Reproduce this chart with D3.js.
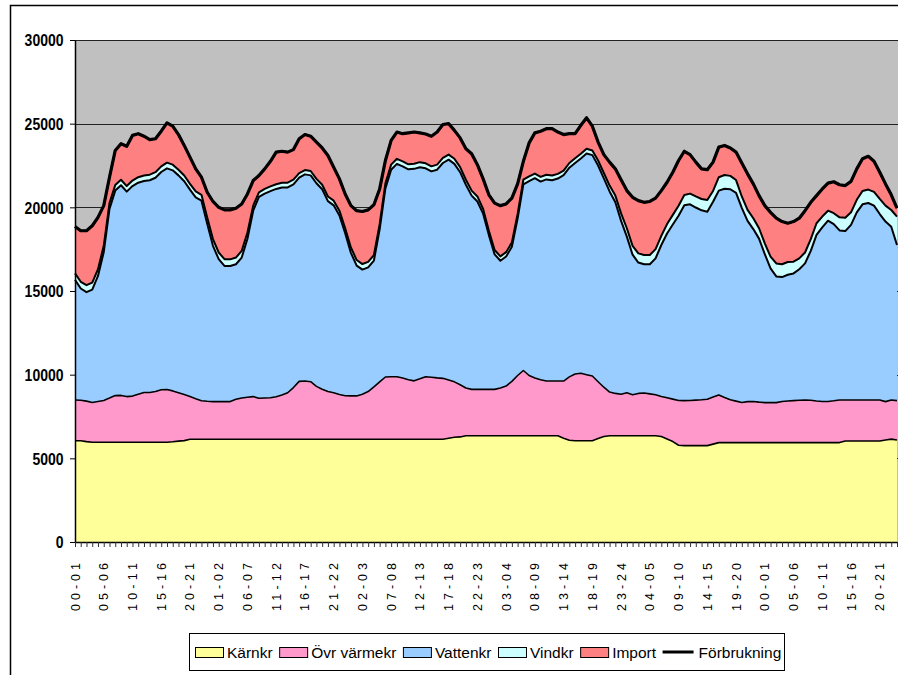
<!DOCTYPE html>
<html>
<head>
<meta charset="utf-8">
<script src="https://cdn.jsdelivr.net/npm/d3@7"></script>
<style>
  body { margin: 0; background: #fff; }
  svg { display: block; font-family: "Liberation Sans", Arial, sans-serif; }
</style>
</head>
<body>
<svg id="chart" width="898" height="675"></svg>
<script>
// hour slots, 6 days in a row
const hours = ["00-01","01-02","02-03","03-04","04-05","05-06","06-07","07-08","08-09","09-10","10-11","11-12",
               "12-13","13-14","14-15","15-16","16-17","17-18","18-19","19-20","20-21","21-22","22-23","23-24"]
const days = 6
const categories = d3.range(days).flatMap(() => hours)

// MW per hour, one line per day
const karnkr = [
  6050,6050,6000,5960,5960,5960,5960,5960,5960,5960,5960,5960,5960,5960,5960,5960,5960,5990,6030,6060,6140,6140,6140,6140,
  6140,6140,6140,6140,6140,6140,6140,6140,6140,6140,6140,6140,6140,6140,6140,6140,6140,6140,6140,6140,6140,6140,6140,6140,
  6140,6140,6140,6140,6140,6140,6140,6140,6140,6140,6140,6140,6140,6140,6140,6140,6140,6200,6260,6280,6350,6350,6350,6350,
  6350,6350,6350,6350,6350,6350,6350,6350,6350,6350,6350,6350,6350,6200,6080,6050,6050,6050,6050,6180,6300,6350,6350,6350,
  6350,6350,6350,6350,6350,6350,6300,6150,6000,5780,5760,5760,5760,5760,5760,5850,5940,5940,5940,5940,5940,5940,5940,5940,
  5940,5940,5940,5940,5940,5940,5940,5940,5940,5940,5940,5940,5940,5940,6040,6040,6040,6040,6040,6040,6040,6100,6150,6100
]
const ovrVarme = [
  2440,2420,2420,2380,2440,2500,2640,2790,2800,2730,2760,2870,2970,2970,3030,3140,3150,3040,2890,2750,2550,2420,2300,2270,
  2250,2250,2250,2250,2390,2470,2510,2550,2450,2470,2480,2540,2640,2780,3090,3460,3480,3440,3160,2990,2850,2780,2670,2600,
  2590,2590,2690,2850,3130,3430,3720,3740,3740,3660,3560,3490,3610,3740,3710,3670,3640,3480,3310,3120,2850,2770,2770,2770,
  2770,2770,2850,2970,3250,3600,3900,3600,3450,3350,3270,3270,3270,3420,3790,3990,4030,3950,3870,3400,2950,2610,2530,2480,
  2570,2450,2530,2550,2500,2450,2400,2470,2540,2680,2690,2700,2720,2740,2770,2810,2850,2700,2560,2480,2400,2450,2460,2420,
  2390,2390,2390,2460,2490,2510,2530,2550,2530,2490,2460,2460,2500,2550,2450,2450,2450,2450,2450,2450,2450,2290,2340,2350
]
const vattenkr = [
  7180,6680,6510,6740,7500,8860,11310,12250,12560,12250,12550,12640,12640,12690,12780,13010,13220,13180,12990,12750,12370,12040,11960,10610,
  9310,8510,8110,8100,8070,8390,9470,11110,12030,12210,12350,12420,12410,12270,12140,12170,12350,12330,12140,11950,11380,11200,10700,9710,
  8550,7790,7450,7420,7550,9110,11270,12370,12720,12650,12570,12670,12650,12450,12300,12440,12870,13170,13030,12700,12150,11580,11230,10500,
  9220,8070,7610,7740,8040,9380,11120,11620,11940,11840,12050,12000,12100,12300,12500,12610,12840,13220,13200,12920,12480,11990,11420,10360,
  9330,8370,7820,7700,7750,8150,9050,9820,10430,11040,11670,11720,11510,11320,11210,11670,12210,12470,12580,12450,11630,10800,10300,9770,
  8870,8020,7540,7430,7540,7600,7830,8160,8930,9920,10400,10800,10560,10130,10090,10460,11210,11690,11770,11610,11110,10760,10350,9300
]
const vindkr = [
  380,400,420,420,400,380,340,330,330,330,330,330,330,330,330,340,340,340,340,340,340,350,350,380,
  400,400,400,400,400,400,380,300,280,280,280,280,280,280,280,280,260,260,260,270,280,280,290,300,
  320,330,330,330,330,320,300,300,300,300,300,300,300,300,300,300,300,300,300,300,300,300,300,280,
  260,260,260,260,260,270,280,280,280,280,280,280,280,280,280,280,280,280,280,300,320,350,400,450,
  500,530,550,550,550,550,550,560,580,600,620,640,660,680,700,650,800,820,800,760,680,660,650,620,
  650,700,780,770,760,700,650,650,700,700,650,600,650,780,800,750,750,800,800,820,900,950,1000,1700
]
const importVals = [
  2800,3050,3250,3400,3100,2400,1550,2070,2150,2380,2700,2600,2350,2100,2000,2100,2380,2300,2100,1800,1600,1350,1050,1500,
  2250,2700,2950,2960,2950,2800,2300,1500,1000,1200,1500,1920,1880,1830,1800,2050,2120,2080,2200,2200,2450,2000,1900,2050,
  2500,2950,3140,3110,3000,2100,1370,1450,1600,1650,1880,1900,1750,1750,1800,1950,2000,1850,1700,1750,1850,2200,1900,1800,
  2150,2800,3030,2880,2650,1800,1100,2000,2430,2730,2750,2800,2500,2150,1750,1470,1700,1850,1450,1100,1100,1400,1600,2010,
  2250,2900,3150,3150,3200,3050,2700,2500,2550,2700,2610,2330,2050,1800,1810,1720,1800,1770,1670,1670,2000,2150,2050,1950,
  2250,2650,2700,2550,2320,2400,2400,2500,2200,1650,1650,1650,1880,1950,1920,1850,1850,1920,1990,1830,1600,1300,910,500
]
const forbrukning = [
  18850,18600,18600,18900,19400,20100,21800,23400,23800,23650,24300,24400,24250,24050,24100,24550,25050,24850,24350,23700,23000,22300,21800,20900,
  20350,20000,19850,19850,19950,20200,20800,21600,21900,22300,22750,23300,23350,23300,23450,24100,24350,24250,23900,23550,23100,22400,21700,20800,
  20100,19800,19750,19850,20150,21100,22800,24000,24500,24400,24450,24500,24450,24380,24250,24500,24950,25000,24600,24150,23500,23200,22550,21700,
  20750,20250,20100,20200,20550,21400,22750,23850,24450,24550,24700,24700,24500,24350,24400,24400,24900,25350,24850,23900,23150,22700,22300,21650,
  21000,20600,20400,20300,20350,20550,21000,21500,22100,22800,23350,23150,22700,22300,22250,22700,23600,23700,23550,23300,22650,22000,21400,20700,
  20100,19700,19350,19150,19050,19150,19350,19800,20300,20700,21100,21450,21530,21350,21300,21550,22300,22900,23050,22750,22100,21400,20750,19950
]
const yTicks = [0, 5000, 10000, 15000, 20000, 25000, 30000]

const seriesNames = ["Kärnkr", "Övr värmekr", "Vattenkr", "Vindkr", "Import"]
const seriesColors = ["#FFFF99", "#FF99CC", "#99CCFF", "#CCFFFF", "#FF8080"]
const seriesData = [karnkr, ovrVarme, vattenkr, vindkr, importVals]

const rows = categories.map((c, i) => {
  const r = { cat: c }
  seriesNames.forEach((s, k) => { r[s] = seriesData[k][i] })
  return r
})

const svg = d3.select("#chart")
const plotLeft = 75, plotTop = 40, plotBottom = 542, plotRight = 897

const x = d3.scaleLinear().domain([0, categories.length - 1]).range([plotLeft, plotRight])
const y = d3.scaleLinear().domain([0, 30000]).range([plotBottom, plotTop])

// chart frame (cut off at right and bottom like the picture)
svg.append("rect")
  .attr("x", 10.5).attr("y", 5.5)
  .attr("width", 900).attr("height", 700)
  .attr("fill", "#fff").attr("stroke", "#000").attr("stroke-width", 1.5)

// plot background
svg.append("rect")
  .attr("x", plotLeft).attr("y", plotTop)
  .attr("width", 900 - plotLeft).attr("height", plotBottom - plotTop)
  .attr("fill", "#C0C0C0")

// gridlines
svg.append("g").selectAll("line")
  .data(yTicks.slice(1))
  .enter().append("line")
    .attr("x1", plotLeft).attr("x2", 900)
    .attr("y1", d => Math.round(y(d)) + 0.5).attr("y2", d => Math.round(y(d)) + 0.5)
    .attr("stroke", "#222").attr("stroke-width", 1)

const layers = d3.stack().keys(seriesNames)(rows)

const area = d3.area()
  .x((d, i) => x(i))
  .y0(d => y(d[0]))
  .y1(d => y(d[1]))

const topLine = d3.line()
  .x((d, i) => x(i))
  .y(d => y(d[1]))

svg.append("g").selectAll("path")
  .data(layers)
  .enter().append("path")
    .attr("d", area)
    .attr("fill", (d, i) => seriesColors[i])

// black borders along each band
svg.append("g").selectAll("path")
  .data(layers)
  .enter().append("path")
    .attr("d", topLine)
    .attr("fill", "none")
    .attr("stroke", "#000")
    .attr("stroke-width", (d, i) => i < 2 ? 1.6 : 2)
    .attr("stroke-linejoin", "round")

// Förbrukning line
svg.append("path")
  .datum(forbrukning)
  .attr("d", d3.line().x((d, i) => x(i)).y(d => y(d)))
  .attr("fill", "none")
  .attr("stroke", "#000")
  .attr("stroke-width", 3.2)
  .attr("stroke-linejoin", "round")

// y axis
const yAxis = svg.append("g")
  .attr("transform", "translate(" + plotLeft + ",0)")
  .call(d3.axisLeft(y).tickValues(yTicks).tickSize(5).tickSizeOuter(0).tickFormat(d3.format("d")))
yAxis.select(".domain").attr("stroke", "#000").attr("stroke-width", 1.5)
yAxis.selectAll(".tick line").attr("stroke", "#000")
yAxis.selectAll(".tick text")
  .attr("x", -11.5 / 0.875)
  .attr("dy", "0.36em")
  .attr("transform", "scale(0.875,1)")
  .attr("font-size", 16)
  .attr("font-weight", "bold")
  .attr("font-family", "'Liberation Sans', Arial, sans-serif")
  .attr("fill", "#000")

// x axis with a tick for every hour
const xAxis = svg.append("g")
  .attr("transform", "translate(0," + plotBottom + ")")
  .call(d3.axisBottom(x).tickValues(d3.range(categories.length)).tickSize(5).tickSizeOuter(0).tickFormat(""))
xAxis.select(".domain").attr("stroke", "#000").attr("stroke-width", 1.5)
xAxis.selectAll(".tick line").attr("stroke", "#333")

// every fifth hour is labelled
svg.append("g").selectAll("text")
  .data(d3.range(0, categories.length, 5))
  .enter().append("text")
    .attr("transform", i => "translate(" + x(i) + ",563) rotate(-90)")
    .attr("text-anchor", "end")
    .attr("dy", "0.36em")
    .attr("font-size", 12.5)
    .attr("textLength", 48)
    .attr("lengthAdjust", "spacing")
    .text(i => categories[i])

// legend
const legend = svg.append("g")
legend.append("rect")
  .attr("x", 189.5).attr("y", 633.5)
  .attr("width", 595).attr("height", 37)
  .attr("fill", "#fff").attr("stroke", "#000")

const legendItems = seriesNames.map((s, i) => ({ name: s, color: seriesColors[i] }))
legendItems.push({ name: "Förbrukning", line: true })

let lx = 195
const ly = 652
legendItems.forEach(item => {
  if (item.line) {
    legend.append("line")
      .attr("x1", lx).attr("x2", lx + 31)
      .attr("y1", ly).attr("y2", ly)
      .attr("stroke", "#000").attr("stroke-width", 3)
    lx += 36
  } else {
    legend.append("rect")
      .attr("x", lx + 0.5).attr("y", ly - 4.5)
      .attr("width", 28).attr("height", 10)
      .attr("fill", item.color).attr("stroke", "#000")
    lx += 32
  }
  const t = legend.append("text")
    .attr("x", lx).attr("y", ly)
    .attr("dy", "0.36em")
    .attr("font-size", 15.5)
    .text(item.name)
  lx += t.node().getComputedTextLength() + 6.5
})
</script>
</body>
</html>
